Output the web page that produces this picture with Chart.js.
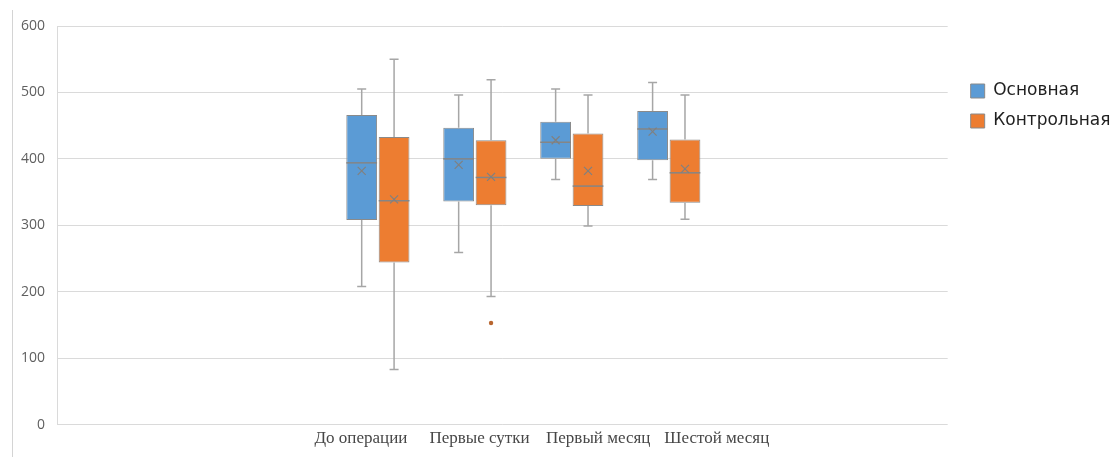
<!DOCTYPE html>
<html lang="ru">
<head>
<meta charset="utf-8">
<title>Диаграмма размаха</title>
<script src="https://cdn.jsdelivr.net/npm/chart.js@4.4.1/dist/chart.umd.min.js"></script>
<style>
  html, body { margin: 0; padding: 0; background: #fff; }
  #wrap { position: relative; width: 1117px; height: 457px; }
  #rama { position: absolute; left: 12px; top: 10px; bottom: 0; border-left: 1px solid #d4d4d4; }
</style>
</head>
<body>
<div id="wrap">
  <div id="rama"></div>
  <canvas id="grafik"></canvas>
</div>
<script>
    // Категории и их места на оси
    const kategorii = ['До операции', 'Первые сутки', 'Первый месяц', 'Шестой месяц'];
    const pozicii = [1, 2, 3, 4];
    const shkalaY = [0, 100, 200, 300, 400, 500, 600];

    // Основная группа
    const osnMin = [208, 259, 369, 369];
    const osnQ1 = [308, 336, 400, 398];
    const osnMediana = [394, 400, 425, 445];
    const osnSrednee = [382, 391, 428, 441];
    const osnQ3 = [466, 447, 456, 472];
    const osnMax = [505, 496, 505, 515];
    const osnVybrosy = [[], [], [], []];

    // Контрольная группа
    const konMin = [83, 193, 299, 309];
    const konQ1 = [244, 330, 329, 334];
    const konMediana = [337, 372, 359, 379];
    const konSrednee = [339, 373, 382, 385];
    const konQ3 = [433, 428, 438, 429];
    const konMax = [550, 519, 496, 496];
    const konVybrosy = [[], [153], [], []];

    // Ящик = плавающий столбец от Q1 до Q3
    function yashiki(q1, q3) {
        return pozicii.map((p, i) => ({ x: p, y: [q1[i], q3[i]] }));
    }

    const tolkoPozicii = s => { s.ticks = pozicii.map(v => ({ value: v })); };

    // Усы, медиана, среднее и выбросы рисуем поверх столбцов
    const usyPlugin = {
        id: 'usy',
        afterDatasetsDraw(chart) {
            const ctx = chart.ctx;
            const y = chart.scales.y;
            chart.data.datasets.forEach((ds, di) => {
                const s = ds.stat;
                chart.getDatasetMeta(di).data.forEach((bar, i) => {
                    const cx = bar.x;
                    const half = bar.width / 2;
                    const yMin = y.getPixelForValue(s.min[i]);
                    const yQ1 = y.getPixelForValue(s.q1[i]);
                    const yQ3 = y.getPixelForValue(s.q3[i]);
                    const yMax = y.getPixelForValue(s.max[i]);
                    const yMed = y.getPixelForValue(s.med[i]);
                    const ySr = y.getPixelForValue(s.sr[i]);

                    ctx.save();
                    // усы с засечками
                    ctx.strokeStyle = '#a6a6a6';
                    ctx.lineWidth = 1.5;
                    ctx.beginPath();
                    ctx.moveTo(cx, yQ3); ctx.lineTo(cx, yMax);
                    ctx.moveTo(cx - 4.5, yMax); ctx.lineTo(cx + 4.5, yMax);
                    ctx.moveTo(cx, yQ1); ctx.lineTo(cx, yMin);
                    ctx.moveTo(cx - 4.5, yMin); ctx.lineTo(cx + 4.5, yMin);
                    ctx.stroke();

                    // медиана
                    ctx.strokeStyle = '#858585';
                    ctx.lineWidth = 1.5;
                    ctx.beginPath();
                    ctx.moveTo(cx - half, yMed); ctx.lineTo(cx + half, yMed);
                    ctx.stroke();

                    // среднее — крестик
                    const r = 4;
                    ctx.lineWidth = 1.2;
                    ctx.strokeStyle = '#808080';
                    ctx.beginPath();
                    ctx.moveTo(cx - r, ySr - r); ctx.lineTo(cx + r, ySr + r);
                    ctx.moveTo(cx + r, ySr - r); ctx.lineTo(cx - r, ySr + r);
                    ctx.stroke();

                    // выбросы
                    ctx.fillStyle = s.tochka;
                    s.vyb[i].forEach(v => {
                        ctx.beginPath();
                        ctx.arc(cx, y.getPixelForValue(v), 2.2, 0, Math.PI * 2);
                        ctx.fill();
                    });
                    ctx.restore();
                });
            });
        }
    };

    function sozdatGrafik() {
        const ctx = document.getElementById('grafik').getContext('2d');

        new Chart(ctx, {
            type: 'bar',
            data: {
                datasets: [{
                    label: 'Основная',
                    data: yashiki(osnQ1, osnQ3),
                    backgroundColor: '#5b9bd5',
                    borderColor: '#8a8a8a',
                    borderWidth: 1,
                    borderSkipped: false,
                    stat: { min: osnMin, q1: osnQ1, med: osnMediana, sr: osnSrednee, q3: osnQ3, max: osnMax, vyb: osnVybrosy, tochka: '#3f7fbf' }
                }, {
                    label: 'Контрольная',
                    data: yashiki(konQ1, konQ3),
                    backgroundColor: '#ed7d31',
                    borderColor: '#8a8a8a',
                    borderWidth: 1,
                    borderSkipped: false,
                    stat: { min: konMin, q1: konQ1, med: konMediana, sr: konSrednee, q3: konQ3, max: konMax, vyb: konVybrosy, tochka: '#b8662f' }
                }]
            },
            options: {
                responsive: true,
                maintainAspectRatio: false,
                animation: false,
                categoryPercentage: 0.668,
                barPercentage: 0.95,
                layout: { padding: { left: 9, top: 26, right: -3.5, bottom: 4 } },
                scales: {
                    x: {
                        type: 'linear',
                        display: false,
                        offset: false,
                        min: -2.309,
                        max: 6.876,
                        afterBuildTicks: tolkoPozicii
                    },
                    podpisi: {
                        type: 'linear',
                        position: 'bottom',
                        offset: false,
                        min: -1.562,
                        max: 5.946,
                        afterBuildTicks: tolkoPozicii,
                        grid: { display: false, drawTicks: false },
                        border: { display: false },
                        ticks: {
                            callback: (v, i) => kategorii[i],
                            autoSkip: false,
                            maxRotation: 0,
                            padding: 4,
                            color: '#474747',
                            font: { family: 'Liberation Serif', size: 17 }
                        }
                    },
                    y: {
                        min: 0,
                        max: 600,
                        afterBuildTicks: s => { s.ticks = shkalaY.map(v => ({ value: v })); },
                        grid: { color: '#dadada', lineWidth: 1, drawTicks: false },
                        border: { display: true, color: '#dadada' },
                        ticks: {
                            padding: 12,
                            color: '#5f5f5f',
                            font: { family: 'Open Sans', size: 14 }
                        }
                    },
                    // пустой зазор между сеткой и легендой
                    zazor: {
                        type: 'linear',
                        position: 'right',
                        grid: { display: false },
                        border: { display: false },
                        ticks: { display: false },
                        afterFit: s => { s.width = 10; }
                    }
                },
                plugins: {
                    tooltip: { enabled: false },
                    legend: {
                        position: 'right',
                        align: 'start',
                        title: { display: true, text: '', padding: { top: 31.5, bottom: 0 }, font: { size: 10 } },
                        labels: {
                            boxWidth: 14,
                            boxHeight: 14,
                            padding: 13,
                            color: '#1f1f1f',
                            font: { family: 'DejaVu Sans', size: 17 }
                        }
                    }
                }
            },
            plugins: [usyPlugin]
        });
    }

    sozdatGrafik();
</script>
</body>
</html>
